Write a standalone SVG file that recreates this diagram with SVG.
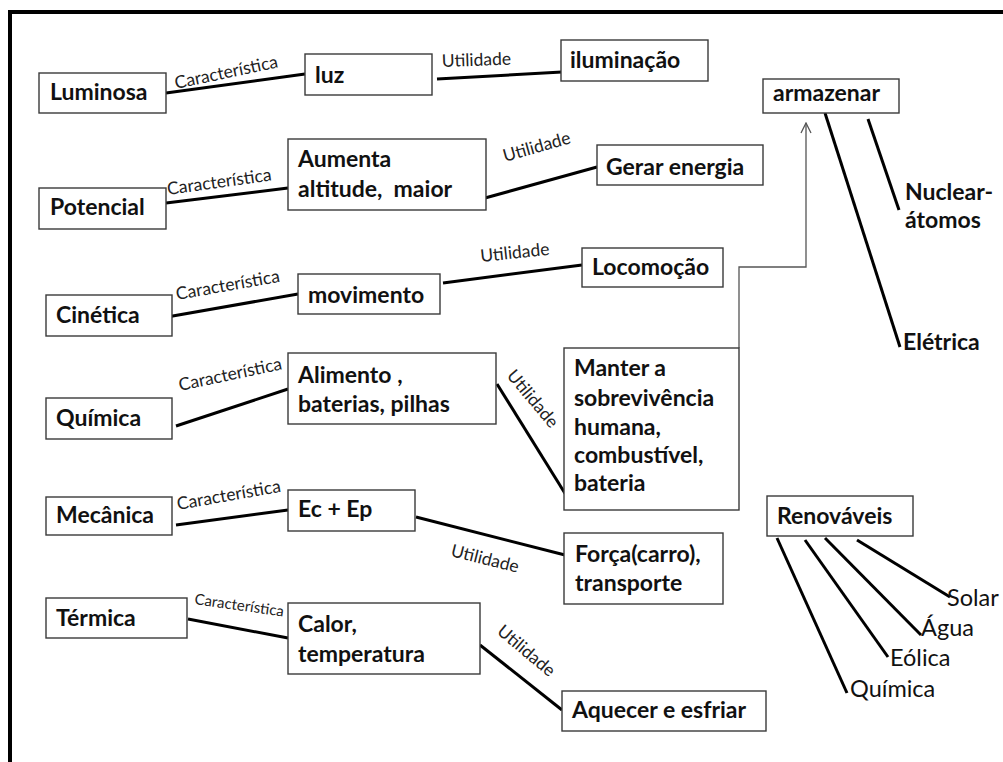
<svg xmlns="http://www.w3.org/2000/svg" width="1003" height="762" viewBox="0 0 1003 762">
  <defs>
    <style>
      .box { fill: #ffffff; stroke: #3a3a3a; stroke-width: 1.4; }
      .t { font-family: Lato, "Liberation Sans", sans-serif; font-weight: bold; font-size: 23px; fill: #111; }
      .leaf { font-family: Lato, "Liberation Sans", sans-serif; font-size: 23.5px; fill: #111; }
      .lbl { font-family: Lato, "Liberation Sans", sans-serif; font-size: 17.5px; fill: #222; }
      .lbl-s { font-family: Lato, "Liberation Sans", sans-serif; font-size: 15px; fill: #222; }
      .edge { stroke: #000; stroke-width: 3; fill: none; stroke-linecap: butt; }
      .thin { stroke: #555; stroke-width: 1.3; fill: none; }
    </style>
    <marker id="open-arrow" viewBox="0 0 12 12" refX="11" refY="6" markerWidth="12" markerHeight="12" markerUnits="userSpaceOnUse" orient="auto">
      <path d="M1,1 L11,6 L1,11" fill="none" stroke="#555" stroke-width="1.3"/>
    </marker>
  </defs>

  <rect width="1003" height="762" fill="#ffffff"/>
  <!-- outer frame -->
  <rect x="10" y="12" width="1010" height="800" fill="none" stroke="#000" stroke-width="4"/>

  <!-- connectors -->
  <g id="connectors">
    <line class="edge" x1="166" y1="93" x2="305" y2="74"/>
    <line class="edge" x1="437" y1="79" x2="562" y2="72"/>
    <line class="edge" x1="166" y1="203" x2="288" y2="188"/>
    <line class="edge" x1="485" y1="198" x2="597" y2="167"/>
    <line class="edge" x1="167" y1="317" x2="298" y2="294"/>
    <line class="edge" x1="443" y1="283" x2="582" y2="265"/>
    <line class="edge" x1="176" y1="426" x2="288" y2="389"/>
    <line class="edge" x1="497" y1="384" x2="566" y2="495"/>
    <line class="edge" x1="176" y1="525" x2="288" y2="510"/>
    <line class="edge" x1="416" y1="517" x2="565" y2="555"/>
    <line class="edge" x1="188" y1="619" x2="288" y2="638"/>
    <line class="edge" x1="480" y1="645" x2="562" y2="710"/>
    <path class="thin" d="M739,348 V267 H806 V123" marker-end="url(#open-arrow)"/>
    <line class="edge" x1="825" y1="113" x2="900" y2="347"/>
    <line class="edge" x1="868" y1="119" x2="899" y2="210"/>
    <line class="edge" x1="777" y1="538" x2="847" y2="693"/>
    <line class="edge" x1="805" y1="540" x2="888" y2="657"/>
    <line class="edge" x1="825" y1="538" x2="921" y2="635"/>
    <line class="edge" x1="857" y1="540" x2="950" y2="597"/>

    <text class="lbl" transform="translate(176,89) rotate(-12)">Característica</text>
    <text class="lbl" transform="translate(442,67) rotate(-2)">Utilidade</text>
    <text class="lbl" transform="translate(168,195) rotate(-8)">Característica</text>
    <text class="lbl" transform="translate(505,162) rotate(-16)">Utilidade</text>
    <text class="lbl" transform="translate(177,300) rotate(-10)">Característica</text>
    <text class="lbl" transform="translate(481,262) rotate(-6)">Utilidade</text>
    <text class="lbl" transform="translate(180,391) rotate(-12)">Característica</text>
    <text class="lbl" transform="translate(506,376) rotate(50)">Utilidade</text>
    <text class="lbl" transform="translate(178,510) rotate(-10)">Característica</text>
    <text class="lbl" transform="translate(450,556) rotate(14)">Utilidade</text>
    <text class="lbl-s" transform="translate(194,604) rotate(8)">Característica</text>
    <text class="lbl" transform="translate(496,633) rotate(40)">Utilidade</text>
  </g>

  <!-- row: Luminosa -->
  <g id="luminosa"><rect class="box" x="39" y="73" width="127" height="40"/><text class="t" x="50" y="100">Luminosa</text></g>
  <g id="luz"><rect class="box" x="305" y="54" width="127" height="41"/><text class="t" x="315" y="83">luz</text></g>
  <g id="iluminacao"><rect class="box" x="561" y="40" width="147" height="41"/><text class="t" x="570" y="68">iluminação</text></g>

  <!-- row: Potencial -->
  <g id="potencial"><rect class="box" x="39" y="188" width="127" height="41"/><text class="t" x="50" y="215">Potencial</text></g>
  <g id="aumenta"><rect class="box" x="288" y="139" width="198" height="71"/><text class="t" x="298" y="167">Aumenta</text><text class="t" x="298" y="197">altitude,&#160; maior</text></g>
  <g id="gerar-energia"><rect class="box" x="597" y="145" width="166" height="40"/><text class="t" x="606" y="175">Gerar energia</text></g>

  <!-- row: Cinética -->
  <g id="cinetica"><rect class="box" x="46" y="295" width="126" height="41"/><text class="t" x="56" y="323">Cinética</text></g>
  <g id="movimento"><rect class="box" x="298" y="274" width="142" height="40"/><text class="t" x="308" y="303">movimento</text></g>
  <g id="locomocao"><rect class="box" x="582" y="248" width="141" height="39"/><text class="t" x="592" y="275">Locomoção</text></g>

  <!-- row: Química -->
  <g id="quimica"><rect class="box" x="46" y="398" width="126" height="41"/><text class="t" x="56" y="426">Química</text></g>
  <g id="alimento"><rect class="box" x="288" y="353" width="208" height="71"/><text class="t" x="298" y="383">Alimento ,</text><text class="t" x="298" y="412">baterias, pilhas</text></g>
  <g id="manter"><rect class="box" x="564" y="348" width="175" height="162"/>
    <text class="t" x="574" y="376">Manter a</text>
    <text class="t" x="574" y="406">sobrevivência</text>
    <text class="t" x="574" y="435">humana,</text>
    <text class="t" x="574" y="463">combustível,</text>
    <text class="t" x="574" y="491">bateria</text>
  </g>

  <!-- row: Mecânica -->
  <g id="mecanica"><rect class="box" x="46" y="497" width="126" height="38"/><text class="t" x="56" y="523">Mecânica</text></g>
  <g id="ec-ep"><rect class="box" x="288" y="490" width="127" height="41"/><text class="t" x="298" y="517">Ec + Ep</text></g>
  <g id="forca"><rect class="box" x="564" y="533" width="159" height="71"/><text class="t" x="575" y="562">Força(carro),</text><text class="t" x="575" y="591">transporte</text></g>

  <!-- row: Térmica -->
  <g id="termica"><rect class="box" x="46" y="598" width="141" height="40"/><text class="t" x="56" y="626">Térmica</text></g>
  <g id="calor"><rect class="box" x="288" y="603" width="192" height="71"/><text class="t" x="298" y="632">Calor,</text><text class="t" x="298" y="662">temperatura</text></g>
  <g id="aquecer"><rect class="box" x="562" y="691" width="204" height="40"/><text class="t" x="572" y="718">Aquecer e esfriar</text></g>

  <!-- storage -->
  <g id="armazenar"><rect class="box" x="763" y="79" width="136" height="34"/><text class="t" x="773" y="101">armazenar</text></g>
  <g id="nuclear"><text class="t" x="905" y="200">Nuclear-</text><text class="t" x="905" y="228">átomos</text></g>
  <g id="eletrica"><text class="t" x="903" y="350">Elétrica</text></g>

  <!-- renewables -->
  <g id="renovaveis"><rect class="box" x="767" y="496" width="146" height="40"/><text class="t" x="777" y="524">Renováveis</text></g>
  <g id="solar"><text class="leaf" x="947" y="606">Solar</text></g>
  <g id="agua"><text class="leaf" x="921" y="636">Água</text></g>
  <g id="eolica"><text class="leaf" x="890" y="666">Eólica</text></g>
  <g id="quimica-r"><text class="leaf" x="850" y="697">Química</text></g>
</svg>
